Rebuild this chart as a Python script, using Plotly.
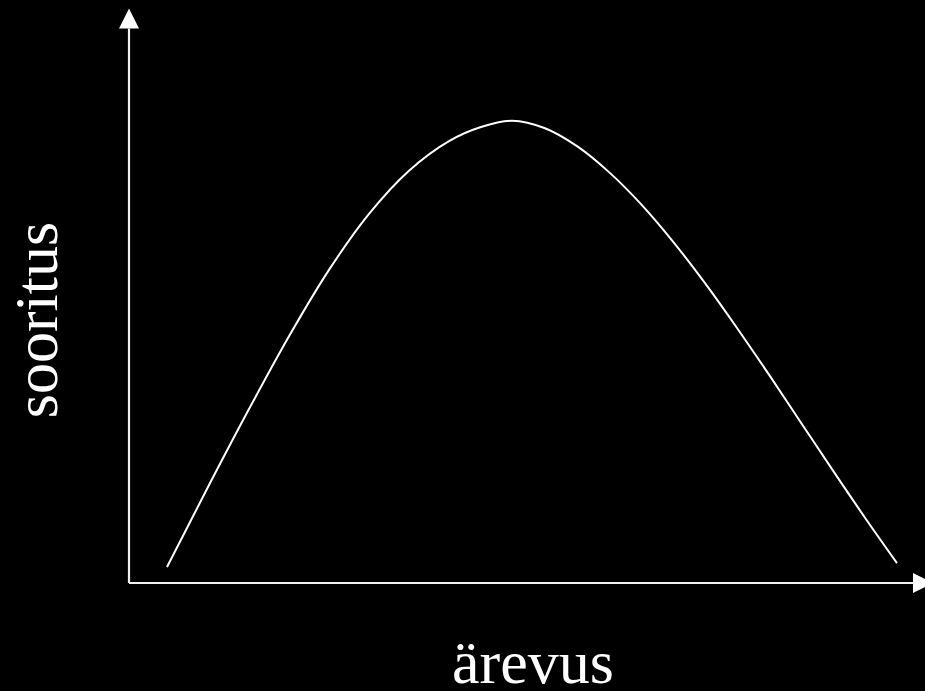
import plotly.graph_objects as go

# Performance (sooritus) as a function of anxiety (ärevus) – inverted-U curve
arousal = [0.475, 1.0, 1.5, 2.0, 2.5, 3.0, 3.5, 4.0, 4.4, 4.79,
           5.2, 5.6, 6.0, 6.4, 6.8, 7.2, 7.6, 8.0, 8.4, 8.8, 9.2, 9.6]
performance = [0.20, 1.224, 2.174, 3.084, 3.914, 4.614, 5.154, 5.524, 5.70, 5.778,
               5.684, 5.46, 5.136, 4.736, 4.268, 3.748, 3.188, 2.604, 2.004, 1.404, 0.816, 0.248]

x_label = "ärevus"
y_label = "sooritus"

# Axis geometry (data units): both axes start at the origin
x_axis_end = 9.8
y_axis_end = 6.93
head_len = 0.25
head_half = 0.125

W, H = 925, 691
unit = 80.0          # pixels per data unit
origin_px = (129, 583)
x_range = [-origin_px[0] / unit, (W - origin_px[0]) / unit]
y_range = [(origin_px[1] - H) / unit, origin_px[1] / unit]

fig = go.Figure()
fig.add_trace(go.Scatter(
    x=arousal, y=performance, mode="lines",
    line=dict(color="white", width=2, shape="spline", smoothing=1.0),
    hoverinfo="skip", showlegend=False,
))

axis_style = dict(color="#f0f0f0", width=2.2)
shapes = [
    dict(type="line", xref="x", yref="y", x0=0, y0=0, x1=x_axis_end, y1=0, line=axis_style),
    dict(type="line", xref="x", yref="y", x0=0, y0=0, x1=0, y1=y_axis_end, line=axis_style),
    # arrow heads
    dict(type="path", xref="x", yref="y",
         path=f"M {-head_half} {y_axis_end} L {head_half} {y_axis_end} "
              f"L 0 {y_axis_end + head_len} Z",
         fillcolor="white", line=dict(width=0)),
    dict(type="path", xref="x", yref="y",
         path=f"M {x_axis_end} {-head_half} L {x_axis_end} {head_half} "
              f"L {x_axis_end + head_len} 0 Z",
         fillcolor="white", line=dict(width=0)),
]

label_font = dict(family="Liberation Serif, Times New Roman, serif", size=62, color="white")
annotations = [
    dict(text=x_label, x=5.05, y=-0.99, xref="x", yref="y",
         showarrow=False, font=label_font, xanchor="center", yanchor="middle"),
    dict(text=y_label, x=-1.17, y=3.29, xref="x", yref="y", textangle=-90,
         showarrow=False, font=label_font, xanchor="center", yanchor="middle"),
]

fig.update_layout(
    width=W, height=H,
    margin=dict(l=0, r=0, t=0, b=0),
    paper_bgcolor="black", plot_bgcolor="black",
    xaxis=dict(range=x_range, visible=False, fixedrange=True),
    yaxis=dict(range=y_range, visible=False, fixedrange=True),
    shapes=shapes, annotations=annotations,
    showlegend=False,
)

fig.write_html("out.html")
